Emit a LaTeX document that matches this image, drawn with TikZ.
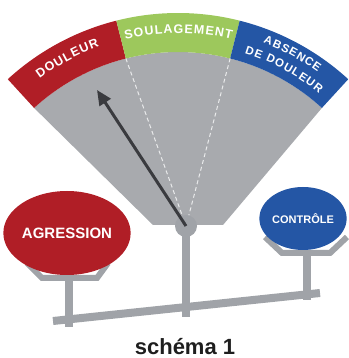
\documentclass[tikz,border=0pt]{standalone}
\usepackage{fontspec}
\setmainfont{Liberation Sans}
\usetikzlibrary{arrows.meta,shapes.geometric,decorations.text,calc}
\definecolor{painred}{RGB}{176,30,38}
\definecolor{reliefgreen}{RGB}{157,200,92}
\definecolor{calmblue}{RGB}{36,86,165}
\definecolor{fangray}{RGB}{168,170,174}
\definecolor{bargray}{RGB}{160,163,168}
\definecolor{needle}{RGB}{58,59,63}
\definecolor{titletext}{RGB}{30,30,30}

\tikzset{
  bar/.style={bargray, line width=8pt},
  tray/.style={bargray, line width=6pt, line join=miter},
  plate/.style={ellipse, inner sep=0pt, text=white, font=\bfseries}
}

\begin{document}
\begin{tikzpicture}[x=1pt,y=1pt]
\useasboundingbox (0,0) rectangle (348,358);

% Centre of the dial arcs
\coordinate (C) at (178,93);
\coordinate (P) at (186,132);

% Grey dial
\fill[fangray] ($(C)+(132.5:213)$) arc[start angle=132.5,end angle=47.5,radius=213]
  -- (223,133) -- (153,133) -- cycle;

% Coloured bands
\foreach \a/\b/\col in {132.5/104.17/painred, 104.17/75.83/reliefgreen, 75.83/47.5/calmblue} {
  \fill[\col] ($(C)+(\a:213)$) arc[start angle=\a,end angle=\b,radius=213]
    -- ($(C)+(\b:252)$) arc[start angle=\b,end angle=\a,radius=252] -- cycle;
}

% Band labels
\path[decorate, decoration={text along path, text align=center,
  text={|\fontsize{12.5}{13}\selectfont\bfseries\color{white}\kern1pt|DOULEUR}}]
  ($(C)+(132.5:232)$) arc[start angle=132.5,end angle=104.17,radius=232];
\path[decorate, decoration={text along path, text align=center,
  text={|\fontsize{12.5}{13}\selectfont\bfseries\color{white}\kern1pt|SOULAGEMENT}}]
  ($(C)+(104.17:232)$) arc[start angle=104.17,end angle=75.83,radius=232];
\path[decorate, decoration={text along path, text align=center,
  text={|\fontsize{11.5}{12}\selectfont\bfseries\color{white}\kern1pt|ABSENCE}}]
  ($(C)+(75.83:238)$) arc[start angle=75.83,end angle=47.5,radius=238];
\path[decorate, decoration={text along path, text align=center,
  text={|\fontsize{11.5}{12}\selectfont\bfseries\color{white}\kern1pt|DE DOULEUR}}]
  ($(C)+(75.83:222)$) arc[start angle=75.83,end angle=47.5,radius=222];

% Stem and beam
\draw[bar] (P) -- (186,41);
\coordinate (beamL) at (53,37);
\coordinate (beamR) at (320,65);
\draw[bar] (beamL) -- (beamR);
\draw[bar] (69,80) -- (69,31);
\draw[bar] (307,105) -- (307,58);

% Pivot
\node[circle, fill=bargray, minimum size=22pt, inner sep=0pt] (pivot) at (P) {};

% Dashed guides
\foreach \a in {104.17,75.83}
  \draw[white!75!fangray, line width=1pt, dash pattern=on 4pt off 3pt] ($(C)+(\a:213)$) -- (pivot);

% Needle
\coordinate (tip) at (97,268);
\draw[needle, line width=3pt, -{Triangle[length=15pt,width=13pt]}] (pivot.center) -- (tip);

% Trays
\draw[tray] (27,95) -- (42,80) -- (97,80) -- (108,95);
\draw[tray] (265,121) -- (282,105) -- (330,105) -- (347,121);

% Plates
\node[plate, fill=painred, minimum width=102pt, minimum height=84pt,
  font=\bfseries\fontsize{15}{16}\selectfont] (agression) at (67,125) {AGRESSION};
\node[plate, fill=calmblue, minimum width=76pt, minimum height=63pt,
  font=\bfseries\fontsize{11}{12}\selectfont] (controle) at (303,139.5) {CONTRÔLE};

% Title
\node[anchor=base, inner sep=1pt, text=titletext, font=\bfseries\fontsize{22}{25}\selectfont] (title) at (185,4) {schéma 1};

\end{tikzpicture}
\end{document}
